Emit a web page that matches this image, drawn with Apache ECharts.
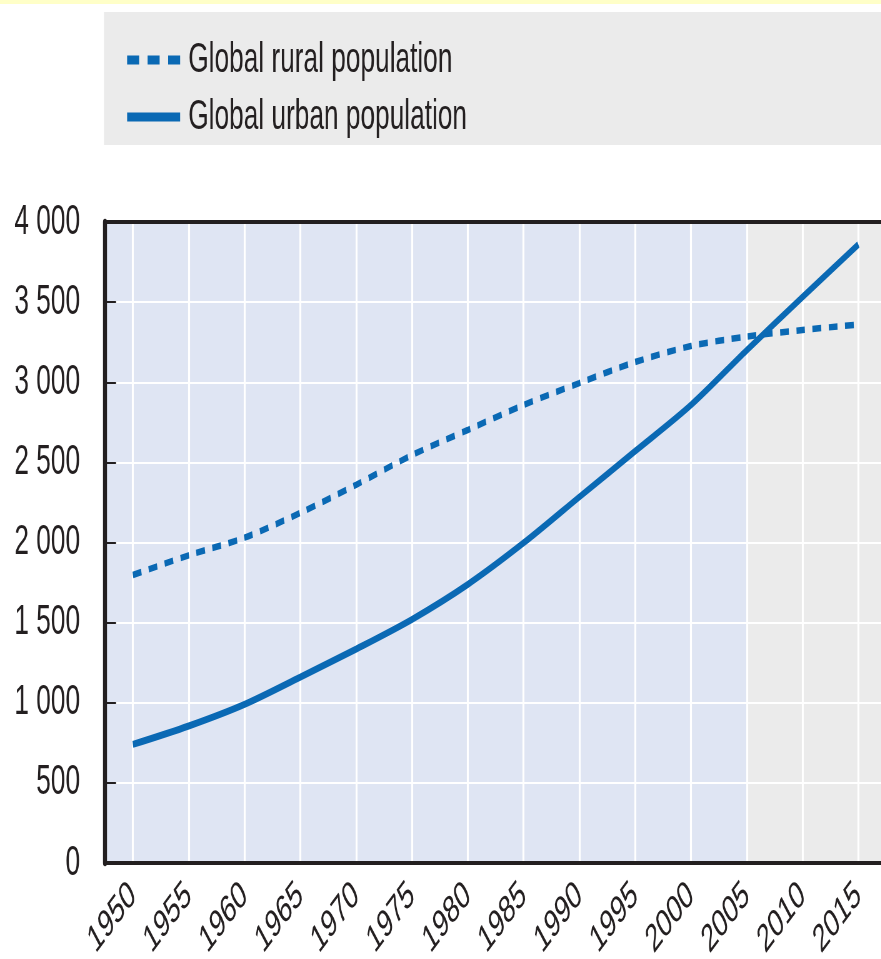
<!DOCTYPE html>
<html>
<head>
<meta charset="utf-8">
<script src="https://cdn.jsdelivr.net/npm/echarts@6/dist/echarts.min.js"></script>
<style>
html,body{margin:0;padding:0;background:#fff;overflow:hidden;width:881px;height:959px;}
#c{width:1410px;height:959px;transform:scale(0.625,1);transform-origin:0 0;}
</style>
</head>
<body>
<div id="c"></div>
<script>
var years = ['1950','1955','1960','1965','1970','1975','1980','1985','1990','1995','2000','2005','2010','2015'];
var rural = [1797,1920,2030,2185,2360,2545,2702,2858,2995,3126,3226,3285,3326,3360];
var urban = [740,855,990,1160,1335,1520,1738,1997,2284,2570,2858,3200,3532,3860];
var yTicks = [0,500,1000,1500,2000,2500,3000,3500,4000];
var shadeBands = [[1947.5, 2005, '#dfe5f3'], [2005, 2017.5, '#ebebeb']];

// The chart is drawn 1.6x wider and squeezed horizontally to mimic the condensed type.
var K = 1.6;
var FONT = '"Liberation Sans",Arial,sans-serif';
var BLUE = '#0a69b4';
var INK = '#231f20';
var chart = echarts.init(document.getElementById('c'));
chart.setOption({
  animation: false,
  graphic: [
    {type:'rect', shape:{x:0,y:0,width:1410,height:4}, style:{fill:'#ffffc8'}, silent:true},
    {type:'rect', shape:{x:104*K,y:12,width:1410,height:133}, style:{fill:'#ebebeb'}, silent:true, z:-10}
  ],
  legend: {
    data: [
      {name: 'Global rural population', icon: 'path://M0,0h12v9h-12z M20.5,0h12v9h-12z M41,0h12v9h-12z'},
      {name: 'Global urban population', icon: 'rect'}
    ],
    orient: 'vertical',
    left: 124 * K, top: 34,
    itemWidth: 53 * K, itemHeight: 9,
    itemGap: 15,
    symbolKeepAspect: false,
    textStyle: {fontFamily: FONT, fontSize: 42, color: INK, lineHeight: 42, padding: [0, 0, 0, 8]}
  },
  grid: {left: 105 * K, right: -5 * K, top: 222, bottom: 96, containLabel: false, outerBoundsMode: 'none'},
  xAxis: [
    {
      type: 'category', data: years, boundaryGap: true, position: 'bottom', z: 8,
      axisLine: {lineStyle: {color: INK, width: 4}},
      axisTick: {inside: true, length: 16, alignWithLabel: true, interval: 0, lineStyle: {color: INK, width: 3.2}},
      axisLabel: {rotate: 40, interval: 0, fontFamily: FONT, fontSize: 39, color: INK, margin: 27},
      splitLine: {show: false}
    },
    {
      type: 'value', min: 1947.5, max: 2017.5, position: 'top', z: 8,
      axisLine: {show: true, onZero: false, lineStyle: {color: INK, width: 4}},
      axisTick: {show: false}, axisLabel: {show: false}, splitLine: {show: false}
    }
  ],
  yAxis: {
    type: 'value', min: 0, max: 4000, interval: 500, z: 8,
    axisLine: {show: true, lineStyle: {color: INK, width: 4 * K}},
    axisTick: {show: true, inside: true, length: 11 * K, lineStyle: {color: INK, width: 2}},
    axisLabel: {fontFamily: FONT, fontSize: 42, color: INK, margin: 40,
      formatter: function (v) { return String(v).replace(/\B(?=(\d{3})+(?!\d))/g, ' '); }},
    splitLine: {show: true, lineStyle: {color: '#ffffff', width: 2}}
  },
  series: [
    {
      name: 'shade', type: 'line', xAxisIndex: 1, yAxisIndex: 0, data: [], z: 1, silent: true,
      markArea: {
        silent: true, z: 1,
        data: shadeBands.map(function (b) {
          return [{xAxis: b[0], itemStyle: {color: b[2]}}, {xAxis: b[1]}];
        })
      },
      markLine: {
        silent: true, z: 2, symbol: ['none', 'none'], label: {show: false},
        lineStyle: {color: '#ffffff', width: 2 * K, type: 'solid'},
        data: years.map(function (y) { return {xAxis: Number(y)}; })
      }
    },
    {
      name: 'Global rural population', type: 'line', data: rural, showSymbol: false, symbol: 'none',
      smooth: 0.3, z: 10,
      lineStyle: {color: BLUE, width: 6.5, type: [14, 12]}, itemStyle: {color: BLUE}
    },
    {
      name: 'Global urban population', type: 'line', data: urban, showSymbol: false, symbol: 'none',
      smooth: 0.3, z: 10,
      lineStyle: {color: BLUE, width: 7}, itemStyle: {color: BLUE}
    }
  ]
});
</script>
</body>
</html>
